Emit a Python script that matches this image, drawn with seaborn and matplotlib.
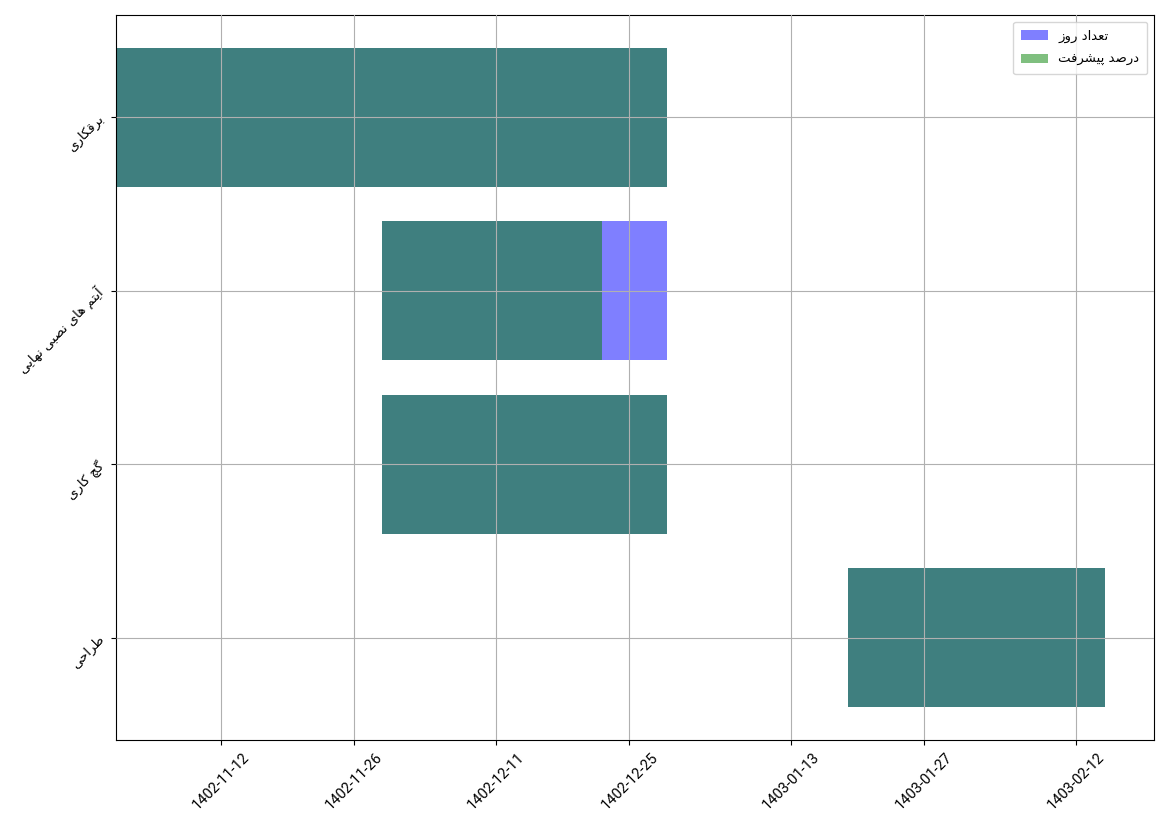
import numpy as np
import pandas as pd
import seaborn as sns
import matplotlib
matplotlib.use("Agg")
import matplotlib.pyplot as plt
import matplotlib.dates as mdates

# Gantt data (bottom to top)
tasks = ["طراحی", "گچ کاری", "آیتم های نصبی نهایی", "برقکاری"]
start_dates = ["2024-04-07", "2024-02-18", "2024-02-18", "2024-01-21"]
days = [27, 30, 30, 58]
progress = [100, 100, 77, 100]

# x ticks: gregorian positions, jalali labels
tick_dates = ["2024-02-01", "2024-02-15", "2024-03-01", "2024-03-15",
              "2024-04-01", "2024-04-15", "2024-05-01"]
tick_labels = ["1402-11-12", "1402-11-26", "1402-12-11", "1402-12-25",
               "1403-01-13", "1403-01-27", "1403-02-12"]

legend_days = "تعداد روز"
legend_progress = "درصد پیشرفت"

# matplotlib has no arabic shaping, so pick presentation forms by hand
# (isolated, final, initial, medial); None = letter does not join forward
FORMS = {
    "ا": ("\uFE8D", "\uFE8E", None, None),
    "آ": ("\uFE81", "\uFE82", None, None),
    "د": ("\uFEA9", "\uFEAA", None, None),
    "ر": ("\uFEAD", "\uFEAE", None, None),
    "ز": ("\uFEAF", "\uFEB0", None, None),
    "و": ("\uFEED", "\uFEEE", None, None),
    "ب": ("\uFE8F", "\uFE90", "\uFE91", "\uFE92"),
    "پ": ("\uFB56", "\uFB57", "\uFB58", "\uFB59"),
    "ت": ("\uFE95", "\uFE96", "\uFE97", "\uFE98"),
    "ح": ("\uFEA1", "\uFEA2", "\uFEA3", "\uFEA4"),
    "چ": ("\uFB7A", "\uFB7B", "\uFB7C", "\uFB7D"),
    "ص": ("\uFEB9", "\uFEBA", "\uFEBB", "\uFEBC"),
    "ش": ("\uFEB5", "\uFEB6", "\uFEB7", "\uFEB8"),
    "ط": ("\uFEC1", "\uFEC2", "\uFEC3", "\uFEC4"),
    "ع": ("\uFEC9", "\uFECA", "\uFECB", "\uFECC"),
    "ف": ("\uFED1", "\uFED2", "\uFED3", "\uFED4"),
    "ق": ("\uFED5", "\uFED6", "\uFED7", "\uFED8"),
    "ک": ("\uFB8E", "\uFB8F", "\uFB90", "\uFB91"),
    "گ": ("\uFB92", "\uFB93", "\uFB94", "\uFB95"),
    "م": ("\uFEE1", "\uFEE2", "\uFEE3", "\uFEE4"),
    "ن": ("\uFEE5", "\uFEE6", "\uFEE7", "\uFEE8"),
    "ه": ("\uFEE9", "\uFEEA", "\uFEEB", "\uFEEC"),
    "ی": ("\uFBFC", "\uFBFD", "\uFBFE", "\uFBFF"),
}


def fa(text):
    out = []
    for i, ch in enumerate(text):
        if ch not in FORMS:
            out.append(ch)
            continue
        prev = text[i - 1] if i > 0 else ""
        nxt = text[i + 1] if i + 1 < len(text) else ""
        f = FORMS[ch]
        joins_prev = prev in FORMS and FORMS[prev][2] is not None
        joins_next = f[2] is not None and nxt in FORMS
        if joins_prev and joins_next:
            out.append(f[3])
        elif joins_prev:
            out.append(f[1])
        elif joins_next:
            out.append(f[2])
        else:
            out.append(f[0])
    return "".join(reversed(out))


sns.set_style("ticks", {"axes.grid": True, "grid.color": "#b0b0b0",
                        "axes.edgecolor": "black", "xtick.color": "black",
                        "ytick.color": "black", "text.color": "black"})
plt.rcParams["font.family"] = ["DejaVu Sans"]

df = pd.DataFrame({"task": tasks, "start": pd.to_datetime(start_dates),
                   "days": days, "progress": progress})
df["left"] = mdates.date2num(df["start"])
df["done"] = df["days"] * df["progress"] / 100

fig, ax = plt.subplots(figsize=(11.69, 8.27), dpi=100)
ypos = np.arange(len(df))
ax.barh(ypos, df["days"], left=df["left"], color="blue", alpha=0.5,
        linewidth=0, label=fa(legend_days))
ax.barh(ypos, df["done"], left=df["left"], color="green", alpha=0.5,
        linewidth=0, label=fa(legend_progress))

ax.set_yticks(ypos)
ax.set_yticklabels([fa(t) for t in df["task"]], rotation=45, fontsize=9.5)
ax.set_xticks(mdates.date2num(pd.to_datetime(tick_dates)))
ax.set_xticklabels(tick_labels, rotation=45, family="Roboto", fontsize=10.5)
ax.set_axisbelow(False)
ax.grid(True, color="#b0b0b0", linewidth=0.8)
ax.legend(loc="upper right", fontsize=9.5, labelspacing=0.8, borderpad=0.6)

plt.tight_layout()
plt.savefig("out.png", dpi=100)
